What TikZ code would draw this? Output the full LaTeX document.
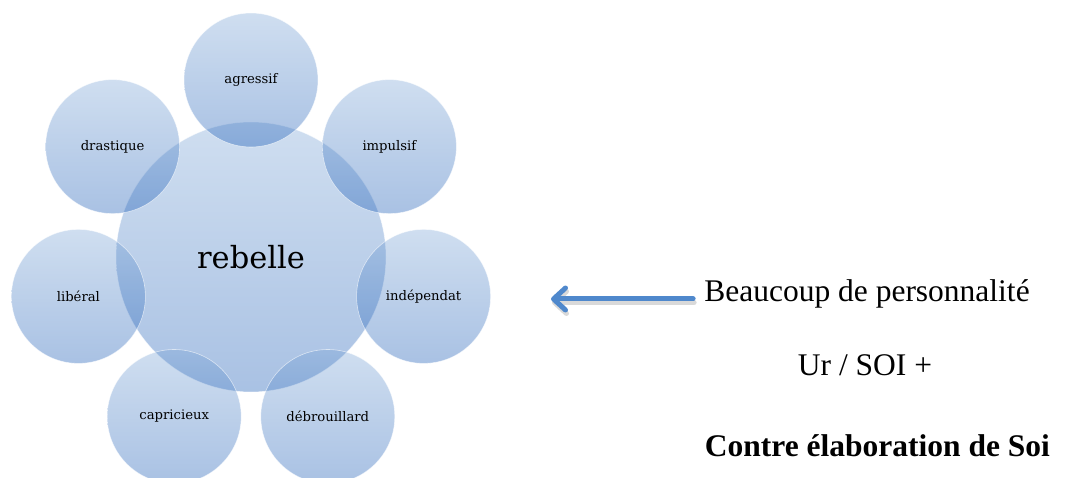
\documentclass[tikz,border=0pt]{standalone}
\usepackage{fontspec}
\setmainfont{Liberation Serif}
\newfontfamily\petalfont{DejaVu Serif}
\usetikzlibrary{arrows.meta}
\definecolor{bubbletop}{RGB}{118,161,212}
\definecolor{bubblebottom}{RGB}{8,78,176}
\definecolor{arrowblue}{RGB}{79,136,204}
\begin{document}
\begin{tikzpicture}[x=1pt, y=1pt,
        bubble/.style={circle, inner sep=0pt, top color=bubbletop, bottom color=bubblebottom,
            fill opacity=0.35, text opacity=1, draw=white, draw opacity=0.6, line width=0.6pt},
        hub/.style={bubble, minimum size=270pt, font=\petalfont\fontsize{30.5}{32}\selectfont},
        petal/.style={bubble, minimum size=134pt, font=\petalfont\fontsize{13.2}{15}\selectfont},
        note/.style={anchor=base, inner sep=0pt, font=\fontsize{31.5}{34}\selectfont},
        pointer/.style={arrowblue, line width=5pt, line cap=round,
            -{Straight Barb[length=12pt, width=22pt, round]}}]
            \useasboundingbox (0,0) rectangle (1066,477);

            \node (rebelle) at (251,220) [hub] {rebelle};
            \node (agressif) at (251,397) [petal] {agressif};
            \node (drastique) at (112.6,330.4) [petal] {drastique};
            \node (liberal) at (78.4,180.6) [petal] {libéral};
            \node (capricieux) at (174.2,60.5) [petal] {capricieux};
            \node (debrouillard) at (327.8,60.5) [petal] {débrouillard};
            \node (independat) at (423.6,180.6) [petal] {indépendat};
            \node (impulsif) at (389.4,330.4) [petal] {impulsif};

            \node (beaucoup) at (867,175.3) [note] {Beaucoup de personnalité};
            \node (ursoi) at (865,102) [note] {Ur / SOI +};
            \node (contre) at (877.5,20.3) [note] {\bfseries Contre élaboration de Soi};

            \coordinate (tip) at (551,178);
            \draw[pointer, black, opacity=0.15, shorten <=11pt] ([shift={(1,-3.5)}]beaucoup.west |- tip) -- ([shift={(1,-3.5)}]tip);
            \draw[pointer, shorten <=11pt] (beaucoup.west |- tip) -- (tip);
        \end{tikzpicture}
\end{document}
